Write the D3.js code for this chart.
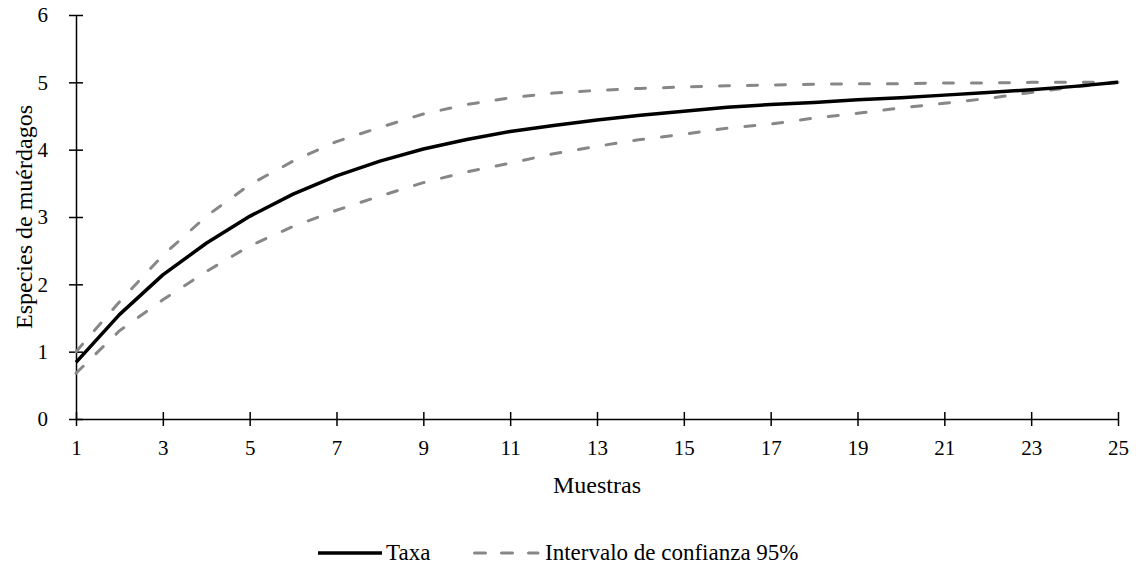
<!DOCTYPE html>
<html>
<head>
<meta charset="utf-8">
<script src="https://cdn.jsdelivr.net/npm/d3@7"></script>
<style>
    body { margin: 0; background: #fff; }
    svg text { font-family: "Liberation Serif", "Times New Roman", serif; fill: #000; }
</style>
</head>
<body>
<svg id="chart" width="1136" height="567"></svg>
<script>
// muestras (x)
var samples = d3.range(1, 26);
var xTickLabels = [1, 3, 5, 7, 9, 11, 13, 15, 17, 19, 21, 23, 25];
var yTickLabels = [0, 1, 2, 3, 4, 5, 6];

// curva de acumulacion de especies
var taxa = [0.84, 1.55, 2.14, 2.61, 3.01, 3.34, 3.61, 3.83, 4.01, 4.15, 4.27, 4.36, 4.44, 4.51, 4.57, 4.63, 4.67, 4.70, 4.74, 4.77, 4.81, 4.85, 4.89, 4.94, 5.00];
var upper = [1.00, 1.74, 2.43, 3.01, 3.48, 3.83, 4.12, 4.33, 4.53, 4.67, 4.77, 4.84, 4.88, 4.91, 4.93, 4.95, 4.96, 4.97, 4.98, 4.98, 4.99, 4.99, 5.00, 5.00, 5.00];
var lower = [0.68, 1.31, 1.77, 2.19, 2.57, 2.86, 3.10, 3.31, 3.51, 3.67, 3.80, 3.94, 4.05, 4.15, 4.23, 4.32, 4.38, 4.47, 4.54, 4.62, 4.69, 4.76, 4.85, 4.93, 5.00];

var svg = d3.select("#chart");
var margin = {left: 76, right: 18, top: 15, bottom: 148};
var width = 1136, height = 567;
var dash = "10,18";

var x = d3.scaleLinear()
    .domain([1, 25])
    .range([margin.left, width - margin.right]);

var y = d3.scaleLinear()
    .domain([0, 6])
    .range([height - margin.bottom, margin.top]);

var line = d3.line()
    .x(function (d, i) { return x(samples[i]); })
    .y(function (d) { return y(d); });

// ejes
var xAxis = svg.append("g")
    .attr("transform", "translate(0," + y(0) + ")")
    .call(d3.axisBottom(x).tickValues(xTickLabels).tickFormat(d3.format("d")).tickSizeInner(7).tickSizeOuter(0).tickPadding(14));

var yAxis = svg.append("g")
    .attr("transform", "translate(" + x(1) + ",0)")
    .call(d3.axisLeft(y).tickValues(yTickLabels).tickFormat(d3.format("d")).tickSizeInner(7).tickSizeOuter(0).tickPadding(21));

[xAxis, yAxis].forEach(function (ax) {
    ax.attr("font-family", null).attr("font-size", null);
    ax.select(".domain").attr("stroke", "#000").attr("stroke-width", 1.5);
    ax.selectAll(".tick line").attr("stroke", "#000").attr("stroke-width", 1.5);
    ax.selectAll(".tick text").attr("font-size", "21px");
});
// marcas cruzadas
xAxis.selectAll(".tick line").attr("y1", -7);
yAxis.selectAll(".tick line").attr("x1", 7);

// series
[upper, lower].forEach(function (s) {
    svg.append("path")
        .datum(s)
        .attr("d", line)
        .attr("fill", "none")
        .attr("stroke", "#878787")
        .attr("stroke-width", 3)
        .attr("stroke-linecap", "round")
        .attr("stroke-dasharray", dash);
});

svg.append("path")
    .datum(taxa)
    .attr("d", line)
    .attr("fill", "none")
    .attr("stroke", "#000")
    .attr("stroke-width", 3.5)
    .attr("stroke-linejoin", "round");

// titulos de ejes
svg.append("text")
    .attr("x", (x(1) + x(25)) / 2)
    .attr("y", 493)
    .attr("text-anchor", "middle")
    .attr("font-size", "24px")
    .text("Muestras");

svg.append("text")
    .attr("transform", "translate(32," + (y(0) + y(6)) / 2 + ") rotate(-90)")
    .attr("text-anchor", "middle")
    .attr("font-size", "24px")
    .text("Especies de muérdagos");

// leyenda
var legend = svg.append("g").attr("transform", "translate(0,553)");
legend.append("line")
    .attr("x1", 318).attr("x2", 382).attr("y1", 0).attr("y2", 0)
    .attr("stroke", "#000").attr("stroke-width", 3.5);
legend.append("text")
    .attr("x", 386).attr("y", 7)
    .attr("font-size", "23px")
    .text("Taxa");
legend.append("line")
    .attr("x1", 474.5).attr("x2", 538).attr("y1", 0).attr("y2", 0)
    .attr("stroke", "#878787").attr("stroke-width", 3)
    .attr("stroke-linecap", "round")
    .attr("stroke-dasharray", "11,16");
legend.append("text")
    .attr("x", 545).attr("y", 7)
    .attr("font-size", "23px")
    .text("Intervalo de confianza 95%");
</script>
</body>
</html>
